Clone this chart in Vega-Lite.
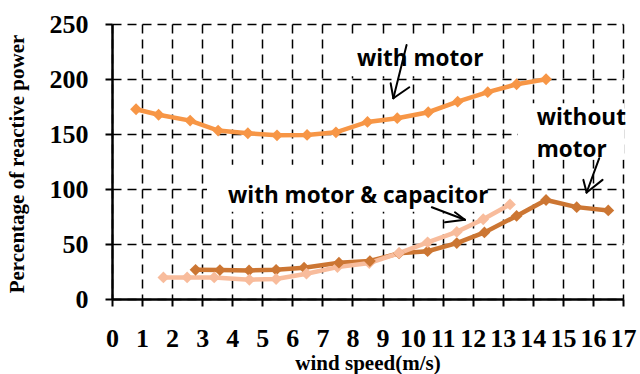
{
  "$schema": "https://vega.github.io/schema/vega-lite/v6.json",
  "width": 511,
  "height": 275,
  "autosize": {"type": "none"},
  "padding": {"left": 112, "top": 24, "right": 17, "bottom": 75},
  "background": "white",
  "config": {
    "view": {"stroke": null},
    "axis": {
      "grid": true,
      "gridColor": "#000000",
      "gridDash": [9, 6],
      "gridWidth": 1.5,
      "gridOpacity": 1,
      "domainColor": "#000000",
      "domainWidth": 2.5,
      "tickColor": "#000000",
      "tickWidth": 2,
      "tickSize": 7,
      "labelColor": "#000000",
      "labelFont": "Liberation Serif",
      "labelFontWeight": "bold",
      "labelFontSize": 26,
      "titleColor": "#000000",
      "titleFont": "Liberation Serif",
      "titleFontWeight": "bold"
    },
    "axisX": {"labelFontSize": 26},
    "axisY": {"labelFontSize": 26}
  },
  "datasets": {
    "series": [
      {"series": "with motor", "speed": 0.8, "power": 172.5},
      {"series": "with motor", "speed": 1.55, "power": 167.5},
      {"series": "with motor", "speed": 2.6, "power": 162.2},
      {"series": "with motor", "speed": 3.53, "power": 153.1},
      {"series": "with motor", "speed": 4.52, "power": 150.7},
      {"series": "with motor", "speed": 5.49, "power": 148.8},
      {"series": "with motor", "speed": 6.49, "power": 149.2},
      {"series": "with motor", "speed": 7.45, "power": 151.5},
      {"series": "with motor", "speed": 8.5, "power": 161},
      {"series": "with motor", "speed": 9.49, "power": 164.4},
      {"series": "with motor", "speed": 10.52, "power": 169.8},
      {"series": "with motor", "speed": 11.5, "power": 179.4},
      {"series": "with motor", "speed": 12.5, "power": 188},
      {"series": "with motor", "speed": 13.46, "power": 195.2},
      {"series": "with motor", "speed": 14.44, "power": 199.8},
      {"series": "without motor", "speed": 2.78, "power": 26.5},
      {"series": "without motor", "speed": 3.59, "power": 26.3},
      {"series": "without motor", "speed": 4.56, "power": 26},
      {"series": "without motor", "speed": 5.46, "power": 26.5},
      {"series": "without motor", "speed": 6.39, "power": 28.5},
      {"series": "without motor", "speed": 7.55, "power": 33},
      {"series": "without motor", "speed": 8.58, "power": 34.5},
      {"series": "without motor", "speed": 9.55, "power": 41.5},
      {"series": "without motor", "speed": 10.5, "power": 43.5},
      {"series": "without motor", "speed": 11.47, "power": 50.8},
      {"series": "without motor", "speed": 12.39, "power": 60.5},
      {"series": "without motor", "speed": 13.46, "power": 75.5},
      {"series": "without motor", "speed": 14.44, "power": 90},
      {"series": "without motor", "speed": 15.46, "power": 83.5},
      {"series": "without motor", "speed": 16.51, "power": 80.5},
      {"series": "with motor & capacitor", "speed": 1.71, "power": 19.6},
      {"series": "with motor & capacitor", "speed": 2.5, "power": 19.6},
      {"series": "with motor & capacitor", "speed": 3.4, "power": 19.6},
      {"series": "with motor & capacitor", "speed": 4.57, "power": 17.5},
      {"series": "with motor & capacitor", "speed": 5.46, "power": 18.2},
      {"series": "with motor & capacitor", "speed": 6.47, "power": 23},
      {"series": "with motor & capacitor", "speed": 7.5, "power": 29},
      {"series": "with motor & capacitor", "speed": 8.56, "power": 32.7},
      {"series": "with motor & capacitor", "speed": 9.55, "power": 41.8},
      {"series": "with motor & capacitor", "speed": 10.5, "power": 51.5},
      {"series": "with motor & capacitor", "speed": 11.47, "power": 61},
      {"series": "with motor & capacitor", "speed": 12.35, "power": 72.5},
      {"series": "with motor & capacitor", "speed": 13.24, "power": 86}
    ],
    "boxes": [
      {"speed": 7.75, "speed2": 12.5, "power": 202.5, "power2": 238},
      {"speed": 3.16, "speed2": 12.34, "power": 79.3, "power2": 122},
      {"speed": 13.5, "speed2": 17.05, "power": 126.5, "power2": 178}
    ],
    "labels": [
      {"text": "with motor", "speed": 8.15, "power": 212},
      {"text": "with motor & capacitor", "speed": 3.86, "power": 87.2},
      {"text": "without", "speed": 14.13, "power": 158.3},
      {"text": "motor", "speed": 14.13, "power": 129}
    ],
    "arrows": [
      {"speed": 9.8, "power": 230.9, "speed2": 9.36, "power2": 182.5},
      {"speed": 9.27, "power": 196.1, "speed2": 9.36, "power2": 182.5},
      {"speed": 9.89, "power": 192.5, "speed2": 9.36, "power2": 182.5},
      {"speed": 10.64, "power": 83.4, "speed2": 11.74, "power2": 72},
      {"speed": 11.08, "power": 69.7, "speed2": 11.74, "power2": 72},
      {"speed": 11.41, "power": 78.8, "speed2": 11.74, "power2": 72},
      {"speed": 16.21, "power": 128, "speed2": 15.79, "power2": 96.8},
      {"speed": 15.68, "power": 108.3, "speed2": 15.79, "power2": 96.8},
      {"speed": 16.32, "power": 108.3, "speed2": 15.79, "power2": 96.8}
    ]
  },
  "encoding": {
    "x": {
      "field": "speed", "type": "quantitative",
      "scale": {"domain": [0, 17], "nice": false, "zero": false},
      "axis": {
        "values": [0, 1, 2, 3, 4, 5, 6, 7, 8, 9, 10, 11, 12, 13, 14, 15, 16, 17],
        "labelFontSize": 26,
        "labelPadding": 19,
        "labelFlush": false,
        "labelOverlap": false,
        "title": "wind speed(m/s)",
        "titleFontSize": 21,
        "titleX": 255.5,
        "titleY": 70,
        "titleAlign": "center",
        "titleBaseline": "alphabetic"
      }
    },
    "y": {
      "field": "power", "type": "quantitative",
      "scale": {"domain": [0, 250], "nice": false},
      "axis": {
        "values": [0, 50, 100, 150, 200, 250],
        "labelFontSize": 26,
        "labelPadding": 17,
        "labelFlush": false,
        "title": "Percentage of reactive power",
        "titleFontSize": 21,
        "titleX": -95,
        "titleY": 139.5,
        "titleAlign": "center",
        "titleBaseline": "middle",
        "titleAngle": -90
      }
    }
  },
  "layer": [
    {
      "data": {"name": "boxes"},
      "mark": {"type": "rect", "fill": "white"},
      "encoding": {
        "x2": {"field": "speed2"},
        "y2": {"field": "power2"}
      }
    },
    {
      "data": {"name": "series"},
      "mark": {
        "type": "line",
        "strokeWidth": 4.5,
        "point": {"filled": true, "shape": "diamond", "size": 140, "opacity": 1}
      },
      "encoding": {
        "color": {
          "field": "series",
          "type": "nominal",
          "scale": {
            "domain": ["with motor", "without motor", "with motor & capacitor"],
            "range": ["#F79646", "#CC7633", "#F8BC9C"]
          },
          "legend": null
        },
        "order": {"field": "speed", "type": "quantitative"},
        "detail": {"field": "series"}
      }
    },
    {
      "data": {"name": "labels"},
      "mark": {
        "type": "text",
        "align": "left",
        "baseline": "alphabetic",
        "font": "Open Sans",
        "fontWeight": "bold",
        "fontSize": 22.5,
        "color": "#000000"
      },
      "encoding": {
        "text": {"field": "text"}
      }
    },
    {
      "data": {"name": "arrows"},
      "mark": {"type": "rule", "color": "#000000", "strokeWidth": 2, "strokeCap": "round"},
      "encoding": {
        "x2": {"field": "speed2"},
        "y2": {"field": "power2"}
      }
    }
  ]
}
